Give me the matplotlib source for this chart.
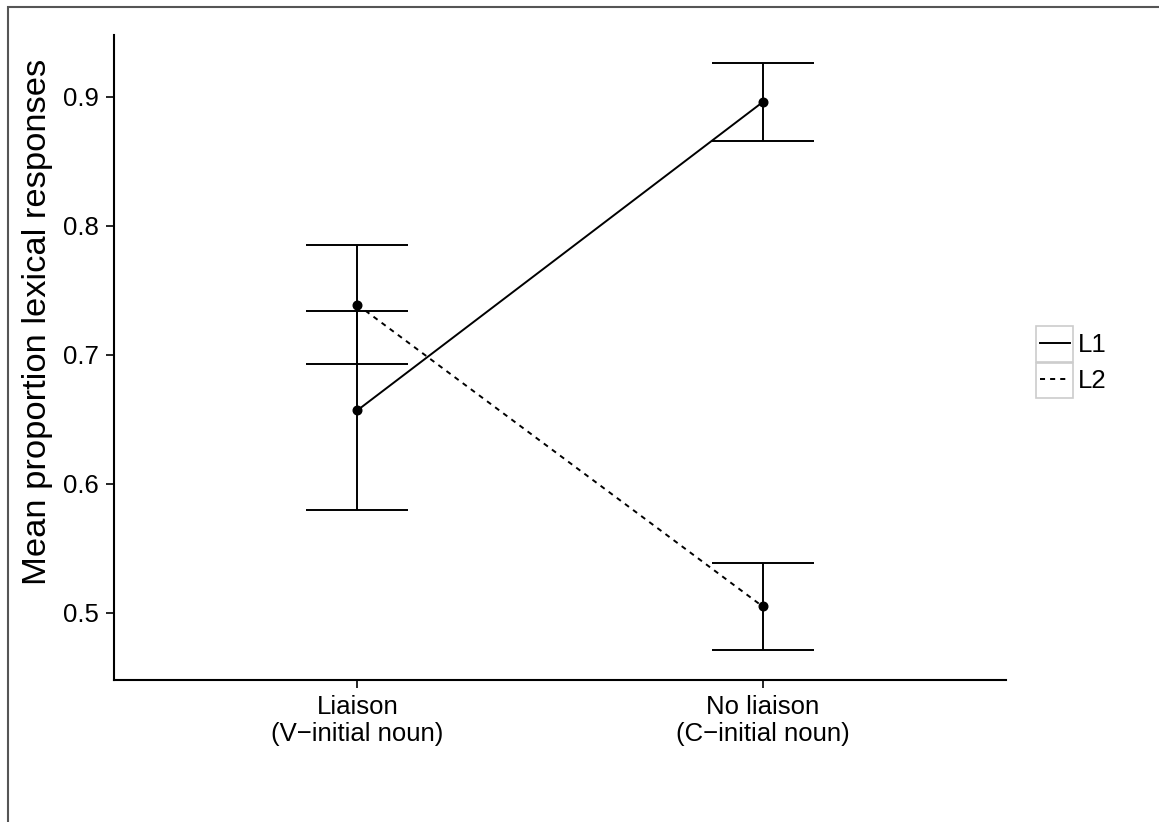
import matplotlib
matplotlib.use("Agg")
import matplotlib.pyplot as plt
from matplotlib.patches import Rectangle
from matplotlib.lines import Line2D

plt.rcParams['font.family'] = ['Liberation Sans', 'DejaVu Sans']

categories = ["Liaison\n(V\u2212initial noun)", "No liaison\n(C\u2212initial noun)"]
groups = ["L1", "L2"]
means = {"L1": [0.657, 0.896], "L2": [0.739, 0.505]}
lower = {"L1": [0.580, 0.866], "L2": [0.693, 0.471]}
upper = {"L1": [0.734, 0.926], "L2": [0.785, 0.539]}
yticks = [0.5, 0.6, 0.7, 0.8, 0.9]

W, H = 1159, 822
fig = plt.figure(figsize=(W / 100, H / 100), dpi=100)

# outer frame
fig.patches.append(Rectangle((8 / W, -0.01), 1.02, 1 - 7 / H + 0.01, transform=fig.transFigure,
                             fill=False, edgecolor='#555555', linewidth=1.5))

ax = fig.add_axes([114 / W, (H - 680) / H, (1006 - 114) / W, (680 - 35) / H])
x = [1, 2]
styles = {"L1": "-", "L2": (0, (2.6, 2.6))}
handles = []
for g in groups:
    yerr = [[m - l for m, l in zip(means[g], lower[g])], [u - m for m, u in zip(means[g], upper[g])]]
    ax.errorbar(x, means[g], yerr=yerr, fmt='none', ecolor='black', elinewidth=1.4,
                capsize=36.7, capthick=1.4)
    ax.plot(x, means[g], color='black', linestyle=styles[g], linewidth=1.4,
            marker='o', markersize=6.2)
    handles.append(Line2D([], [], color='black', linestyle=styles[g], linewidth=1.4))

ax.set_xlim(0.4, 2.6)
ax.set_ylim(0.448, 0.948)
ax.set_xticks(x)
ax.set_xticklabels(categories, fontsize=18.5, linespacing=1.15)
ax.set_yticks(yticks)
ax.set_yticklabels([f"{v:.1f}" for v in yticks], fontsize=18.5)
for s in ['top', 'right']:
    ax.spines[s].set_visible(False)
for s in ['left', 'bottom']:
    ax.spines[s].set_linewidth(1.5)
ax.tick_params(axis='both', length=5.8, width=1.2, pad=5, colors='black')
ax.set_ylabel("Mean proportion lexical responses", fontsize=24.8)
ax.yaxis.set_label_coords(-0.068, 0.555)

# legend key boxes
for i in range(2):
    top = 326 + i * 36.5
    fig.patches.append(Rectangle((1036 / W, (H - top - 36) / H), 37 / W, 36 / H,
                                 transform=fig.transFigure, fill=False,
                                 edgecolor='#cccccc', linewidth=1.2))
leg = fig.legend(handles, groups, loc='center left', bbox_to_anchor=(1040 / W, (H - 363) / H),
                 frameon=False, fontsize=18.5, handlelength=1.17, handletextpad=0.3,
                 labelspacing=0.45, borderpad=0, borderaxespad=0)

fig.savefig("out.png", dpi=100, facecolor='white')
